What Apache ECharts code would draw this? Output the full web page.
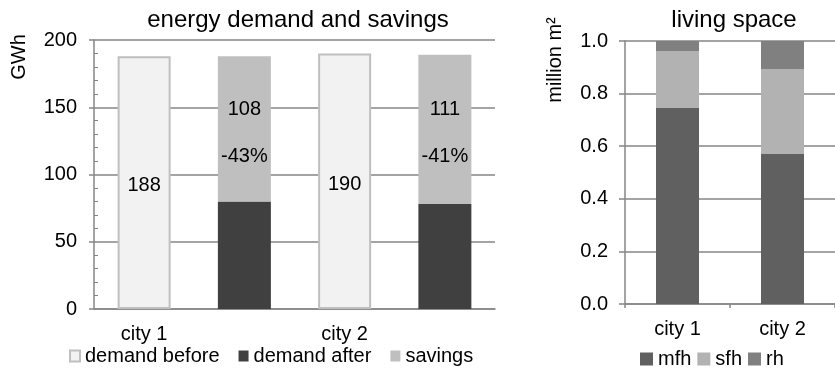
<!DOCTYPE html>
<html>
<head>
<meta charset="utf-8">
<script src="https://cdn.jsdelivr.net/npm/echarts@6/dist/echarts.min.js"></script>
<style>
  html, body { margin: 0; padding: 0; background: #fff; }
  #chart { width: 835px; height: 368px; }
</style>
</head>
<body>
<div id="chart"></div>
<script>
// energy demand chart (left)
var energyCats = ['city 1', 'city 1 after', 'city 2', 'city 2 after'];
var demandBefore = [188, '-', 190, '-'];
var demandAfter = ['-', 80, '-', 78];
var savings = ['-', 108, '-', 111];
var savingsPct = ['', '-43%', '', '-41%'];

// living space chart (right)
var cities = ['city 1', 'city 2'];
var mfh = [0.745, 0.57];
var sfh = [0.217, 0.324];
var rh = [0.038, 0.106];

var font = 'Liberation Sans, Arial, sans-serif';
var fs = 20;
var axisGray = '#868686';

var chart = echarts.init(document.getElementById('chart'));

var option = {
    animation: false,
    textStyle: { fontFamily: font, color: '#000' },
    title: [
        {
            text: 'energy demand and savings',
            left: 298, top: 8, padding: 0, textAlign: 'center',
            textStyle: { fontFamily: font, fontSize: 24, fontWeight: 'normal', color: '#000' }
        },
        {
            text: 'living space',
            left: 734, top: 8, padding: 0, textAlign: 'center',
            textStyle: { fontFamily: font, fontSize: 24, fontWeight: 'normal', color: '#000' }
        }
    ],
    graphic: [
        {
            type: 'text', x: 19, y: 57, rotation: Math.PI / 2,
            style: { text: 'GWh', font: fs + 'px ' + font, fill: '#000', align: 'center', verticalAlign: 'middle' }
        },
        {
            type: 'text', x: 555, y: 60, rotation: Math.PI / 2,
            style: { text: 'million m²', font: fs + 'px ' + font, fill: '#000', align: 'center', verticalAlign: 'middle' }
        }
    ],
    legend: [
        {
            data: ['demand before', 'demand after', 'savings'],
            left: 69, top: 346, padding: 0,
            itemWidth: 10, itemHeight: 11, itemGap: 19,
            icon: 'rect',
            textStyle: { fontFamily: font, fontSize: fs, color: '#000' }
        },
        {
            data: ['mfh', 'sfh', 'rh'],
            left: 640, top: 349, padding: 0,
            itemWidth: 13, itemHeight: 13, itemGap: 6,
            icon: 'rect',
            textStyle: { fontFamily: font, fontSize: fs, color: '#000' }
        }
    ],
    grid: [
        { left: 94, right: 340, top: 40, bottom: 59 },
        { left: 625, width: 222, top: 41, bottom: 64 }
    ],
    xAxis: [
        {
            type: 'category', gridIndex: 0, data: energyCats,
            axisLine: { lineStyle: { color: axisGray, width: 1.5 } },
            axisTick: { show: false },
            axisLabel: { interval: 1, margin: 15, fontSize: fs, color: '#000', fontFamily: font }
        },
        {
            type: 'category', gridIndex: 1, data: cities,
            axisLine: { lineStyle: { color: axisGray, width: 1.5 } },
            axisTick: { show: true, length: 4, lineStyle: { color: axisGray, width: 1.5 } },
            axisLabel: { margin: 15, fontSize: fs, color: '#000', fontFamily: font }
        }
    ],
    yAxis: [
        {
            type: 'value', gridIndex: 0, min: 0, max: 200, interval: 50, position: 'left',
            axisLine: { show: true, lineStyle: { color: axisGray, width: 1.5 } },
            axisTick: { show: true, length: 5, lineStyle: { color: axisGray, width: 1.5 } },
            splitLine: { lineStyle: { color: axisGray, width: 1.5 } },
            axisLabel: { margin: 17, fontSize: fs, color: '#000', fontFamily: font }
        },
        {
            // only for the small inner minor ticks
            type: 'value', gridIndex: 0, min: 0, max: 200, interval: 50, position: 'left',
            axisLine: { show: false },
            axisTick: { show: false, inside: true },
            minorTick: { show: true, splitNumber: 5, length: 4, lineStyle: { color: axisGray, width: 1 } },
            splitLine: { show: false },
            axisLabel: { show: false }
        },
        {
            type: 'value', gridIndex: 1, min: 0, max: 1, interval: 0.2, position: 'left',
            axisLine: { show: true, lineStyle: { color: axisGray, width: 1.5 } },
            axisTick: { show: true, length: 6, lineStyle: { color: axisGray, width: 1.5 } },
            splitLine: { lineStyle: { color: axisGray, width: 1.5 } },
            axisLabel: {
                margin: 17, fontSize: fs, color: '#000', fontFamily: font,
                formatter: function (v) { return v.toFixed(1); }
            }
        }
    ],
    series: [
        {
            name: 'demand before', type: 'bar', xAxisIndex: 0, yAxisIndex: 0,
            data: demandBefore, barWidth: 53, barGap: '-100%',
            itemStyle: { color: '#f2f2f2', borderColor: '#bfbfbf', borderWidth: 2 },
            label: { show: true, position: 'inside', offset: [0, 3], fontSize: fs, color: '#000', fontFamily: font }
        },
        {
            name: 'demand after', type: 'bar', xAxisIndex: 0, yAxisIndex: 0, stack: 'after',
            data: demandAfter, barWidth: 53, barGap: '-100%',
            itemStyle: { color: '#404040' }
        },
        {
            name: 'savings', type: 'bar', xAxisIndex: 0, yAxisIndex: 0, stack: 'after',
            data: savings, barWidth: 53, barGap: '-100%',
            itemStyle: { color: '#bfbfbf' },
            label: {
                show: true, position: 'inside', offset: [0, 4],
                formatter: function (p) {
                    return '{v|' + p.value + '}\n{p|' + savingsPct[p.dataIndex] + '}';
                },
                rich: {
                    v: { fontSize: fs, lineHeight: 47, color: '#000', fontFamily: font },
                    p: { fontSize: fs, lineHeight: 47, color: '#000', fontFamily: font }
                }
            }
        },
        {
            name: 'mfh', type: 'bar', xAxisIndex: 1, yAxisIndex: 2, stack: 'ls',
            data: mfh, barWidth: 43, itemStyle: { color: '#606060' }
        },
        {
            name: 'sfh', type: 'bar', xAxisIndex: 1, yAxisIndex: 2, stack: 'ls',
            data: sfh, barWidth: 43, itemStyle: { color: '#b2b2b2' }
        },
        {
            name: 'rh', type: 'bar', xAxisIndex: 1, yAxisIndex: 2, stack: 'ls',
            data: rh, barWidth: 43, itemStyle: { color: '#808080' }
        }
    ]
};

chart.setOption(option);
window.onresize = function () {
    chart.resize();
};
</script>
</body>
</html>
